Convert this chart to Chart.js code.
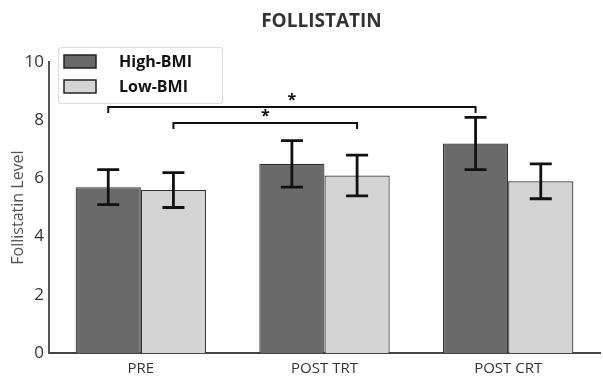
<!DOCTYPE html>
<html>
<head>
<meta charset="utf-8">
<script src="https://cdn.jsdelivr.net/npm/chart.js@4"></script>
<style>
  body { margin: 0; background: #fff; }
</style>
</head>
<body>
<canvas id="follistatin" width="603" height="382"></canvas>
<script>
var groups = ["PRE", "POST TRT", "POST CRT"];
var highBMI = [5.7, 6.5, 7.2];
var highLow = [5.1, 5.7, 6.3];
var highHigh = [6.3, 7.3, 8.1];
var lowBMI = [5.6, 6.1, 5.9];
var lowLow = [5.0, 5.4, 5.3];
var lowHigh = [6.2, 6.8, 6.5];
var yTicks = [0, 2, 4, 6, 8, 10];

// significance brackets: [dataset, group] -> [dataset, group]
var sigFrom = [[0, 0], [1, 0]];
var sigTo = [[0, 2], [1, 1]];
var sigLevel = [8.45, 7.9];

var errLow = [highLow, lowLow];
var errHigh = [highHigh, lowHigh];

var font = "'Open Sans', 'Liberation Sans', sans-serif";

var extras = {
  id: "extras",
  afterDatasetsDraw: function (chart) {
    var ctx = chart.ctx;
    var y = chart.scales.y;
    ctx.save();
    ctx.strokeStyle = "#111";
    ctx.lineWidth = 2.8;
    for (var d = 0; d < 2; d++) {
      var meta = chart.getDatasetMeta(d);
      meta.data.forEach(function (bar, i) {
        var x = bar.x;
        var top = y.getPixelForValue(errHigh[d][i]);
        var bot = y.getPixelForValue(errLow[d][i]);
        ctx.beginPath();
        ctx.moveTo(x, top); ctx.lineTo(x, bot);
        ctx.moveTo(x - 11, top); ctx.lineTo(x + 11, top);
        ctx.moveTo(x - 11, bot); ctx.lineTo(x + 11, bot);
        ctx.stroke();
      });
    }

    // brackets
    ctx.lineWidth = 2;
    ctx.fillStyle = "#111";
    ctx.font = "bold 16px " + font;
    ctx.textAlign = "center";
    ctx.textBaseline = "middle";
    for (var k = 0; k < sigLevel.length; k++) {
      var x1 = chart.getDatasetMeta(sigFrom[k][0]).data[sigFrom[k][1]].x;
      var x2 = chart.getDatasetMeta(sigTo[k][0]).data[sigTo[k][1]].x;
      var yl = y.getPixelForValue(sigLevel[k]);
      ctx.beginPath();
      ctx.moveTo(x1, yl + 6); ctx.lineTo(x1, yl);
      ctx.lineTo(x2, yl); ctx.lineTo(x2, yl + 6);
      ctx.stroke();
      ctx.fillText("*", (x1 + x2) / 2, yl - 7);
    }
    ctx.restore();
  },
  afterDraw: function (chart) {
    var ctx = chart.ctx;
    var area = chart.chartArea;
    ctx.save();
    // title
    ctx.fillStyle = "#333";
    ctx.font = "bold 19px " + font;
    ctx.textAlign = "center";
    ctx.textBaseline = "middle";
    ctx.fillText("FOLLISTATIN", (area.left + area.right) / 2 - 3, 22);

    // legend
    ctx.strokeStyle = "#ddd";
    ctx.lineWidth = 1.2;
    ctx.beginPath();
    ctx.roundRect(58.5, 47.5, 164, 56, 3);
    ctx.fillStyle = "rgba(255,255,255,0.9)";
    ctx.fill();
    ctx.stroke();
    var names = ["High-BMI", "Low-BMI"];
    var fills = ["#6a6a6a", "#d4d4d4"];
    for (var i = 0; i < 2; i++) {
      var yy = 55 + i * 25;
      ctx.fillStyle = fills[i];
      ctx.fillRect(64, yy, 32, 13);
      ctx.strokeStyle = "#222";
      ctx.lineWidth = 1.5;
      ctx.strokeRect(64, yy, 32, 13);
      ctx.fillStyle = "#111";
      ctx.font = "bold 16px " + font;
      ctx.textAlign = "left";
      ctx.fillText(names[i], 119, yy + 7);
    }
    ctx.restore();
  }
};

new Chart("follistatin", {
  type: "bar",
  data: {
    labels: groups,
    datasets: [{
      label: "High-BMI",
      data: highBMI,
      backgroundColor: "#6a6a6a",
      borderColor: "#333",
      borderWidth: 1.2
    }, {
      label: "Low-BMI",
      data: lowBMI,
      backgroundColor: "#d4d4d4",
      borderColor: "#333",
      borderWidth: 1.2
    }]
  },
  options: {
    responsive: false,
    animation: false,
    layout: { padding: { top: 62, right: 3, left: 9, bottom: 0 } },
    datasets: { bar: { categoryPercentage: 0.71, barPercentage: 1.0 } },
    plugins: {
      legend: { display: false },
      title: { display: false },
      tooltip: { enabled: false }
    },
    scales: {
      x: {
        grid: { display: false, drawTicks: true, tickLength: 6, tickColor: "#444" },
        border: { color: "#444", width: 2 },
        ticks: { color: "#333", font: { family: font, size: 15 }, padding: 1 },
        afterFit: function (s) { s.height = 29; }
      },
      y: {
        min: 0,
        max: 10,
        afterBuildTicks: function (s) { s.ticks = yTicks.map(function (v) { return { value: v }; }); },
        grid: { display: false, drawTicks: false },
        border: { color: "#555", width: 2 },
        ticks: { color: "#333", font: { family: font, size: 17 }, padding: 5 },
        title: {
          display: true,
          text: "Follistatin Level",
          color: "#555",
          font: { family: font, size: 16 },
          padding: { top: 0, bottom: 0 }
        },
        afterFit: function (s) { s.width = 40; }
      }
    }
  },
  plugins: [extras]
});
</script>
</body>
</html>
